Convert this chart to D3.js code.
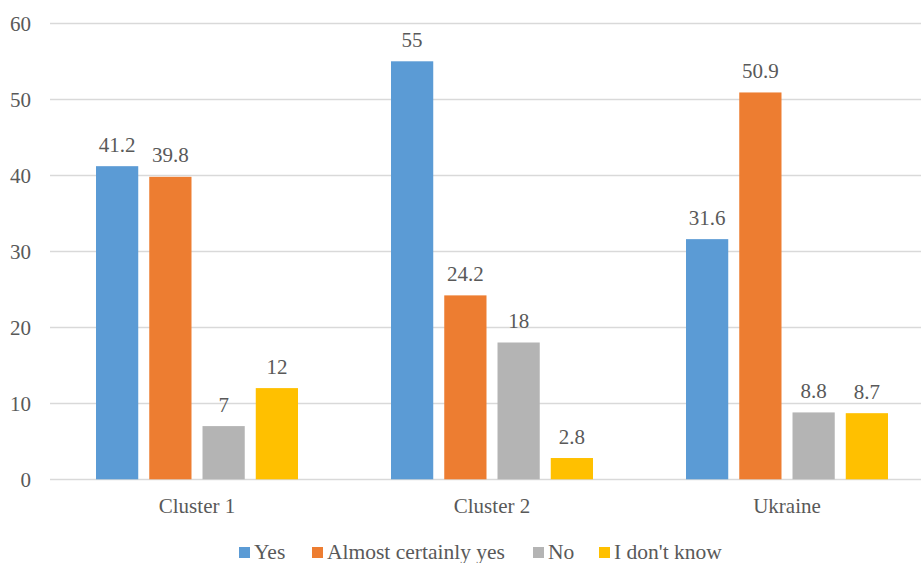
<!DOCTYPE html>
<html><head><meta charset="utf-8">
<script src="https://cdn.jsdelivr.net/npm/d3@7"></script>
<style>body{margin:0;background:#fff}svg{display:block}</style>
</head><body><svg id="c" width="921" height="563" font-family="'Times New Roman', 'Liberation Serif', Tinos, 'DejaVu Serif', serif"></svg>
<script>
const categories = ["Cluster 1", "Cluster 2", "Ukraine"];
const seriesNames = ["Yes", "Almost certainly yes", "No", "I don't know"];
const yesValues = [41.2, 55, 31.6];
const almostValues = [39.8, 24.2, 50.9];
const noValues = [7, 18, 8.8];
const dontKnowValues = [12, 2.8, 8.7];
const colors = ["#5B9BD5", "#ED7D31", "#B4B4B4", "#FFC000"];
const yTicks = [0, 10, 20, 30, 40, 50, 60];

const series = [yesValues, almostValues, noValues, dontKnowValues];
const svg = d3.select("#c");
const x = d3.scaleBand().domain(categories).range([49.5, 934.5]).paddingInner(0).paddingOuter(0);
const y = d3.scaleLinear().domain([0, 60]).range([479.3, 23.3]);
const groupW = 202;
const inner = d3.scaleBand().domain(seriesNames).range([0, groupW]).paddingInner(11/53.2).paddingOuter(0);
const txt = "#595959";

svg.append("g").selectAll("line").data(yTicks).join("line")
  .attr("x1", 50).attr("x2", 921).attr("y1", d => Math.round(y(d)) + 0.5).attr("y2", d => Math.round(y(d)) + 0.5)
  .attr("stroke", "#D9D9D9").attr("stroke-width", 1.3);

svg.append("g").selectAll("text").data(yTicks).join("text")
  .attr("x", 31).attr("y", d => y(d)).attr("dy", "0.35em").attr("text-anchor", "end")
  .attr("font-size", 21).attr("fill", txt).text(d => d);

categories.forEach((cat, ci) => {
  const gx = x(cat) + x.bandwidth() / 2 - groupW / 2;
  series.forEach((vals, si) => {
    const v = vals[ci];
    const bx = gx + inner(seriesNames[si]);
    svg.append("rect").attr("x", bx).attr("y", y(v)).attr("width", inner.bandwidth())
      .attr("height", y(0) - y(v)).attr("fill", colors[si]);
    svg.append("text").attr("x", bx + inner.bandwidth() / 2).attr("y", y(v) - 14.5)
      .attr("text-anchor", "middle").attr("font-size", 21).attr("fill", txt).text(v);
  });
  svg.append("text").attr("x", x(cat) + x.bandwidth() / 2).attr("y", 513)
    .attr("text-anchor", "middle").attr("font-size", 21).attr("fill", txt).text(cat);
});

const legendX = [239, 312, 533, 599];
const lg = svg.append("g");
seriesNames.forEach((n, i) => {
  lg.append("rect").attr("x", legendX[i]).attr("y", 547).attr("width", 11).attr("height", 11).attr("fill", colors[i]);
  lg.append("text").attr("x", legendX[i] + 15).attr("y", 559).attr("font-size", 21.5).attr("fill", txt).text(n);
});
</script></body></html>
